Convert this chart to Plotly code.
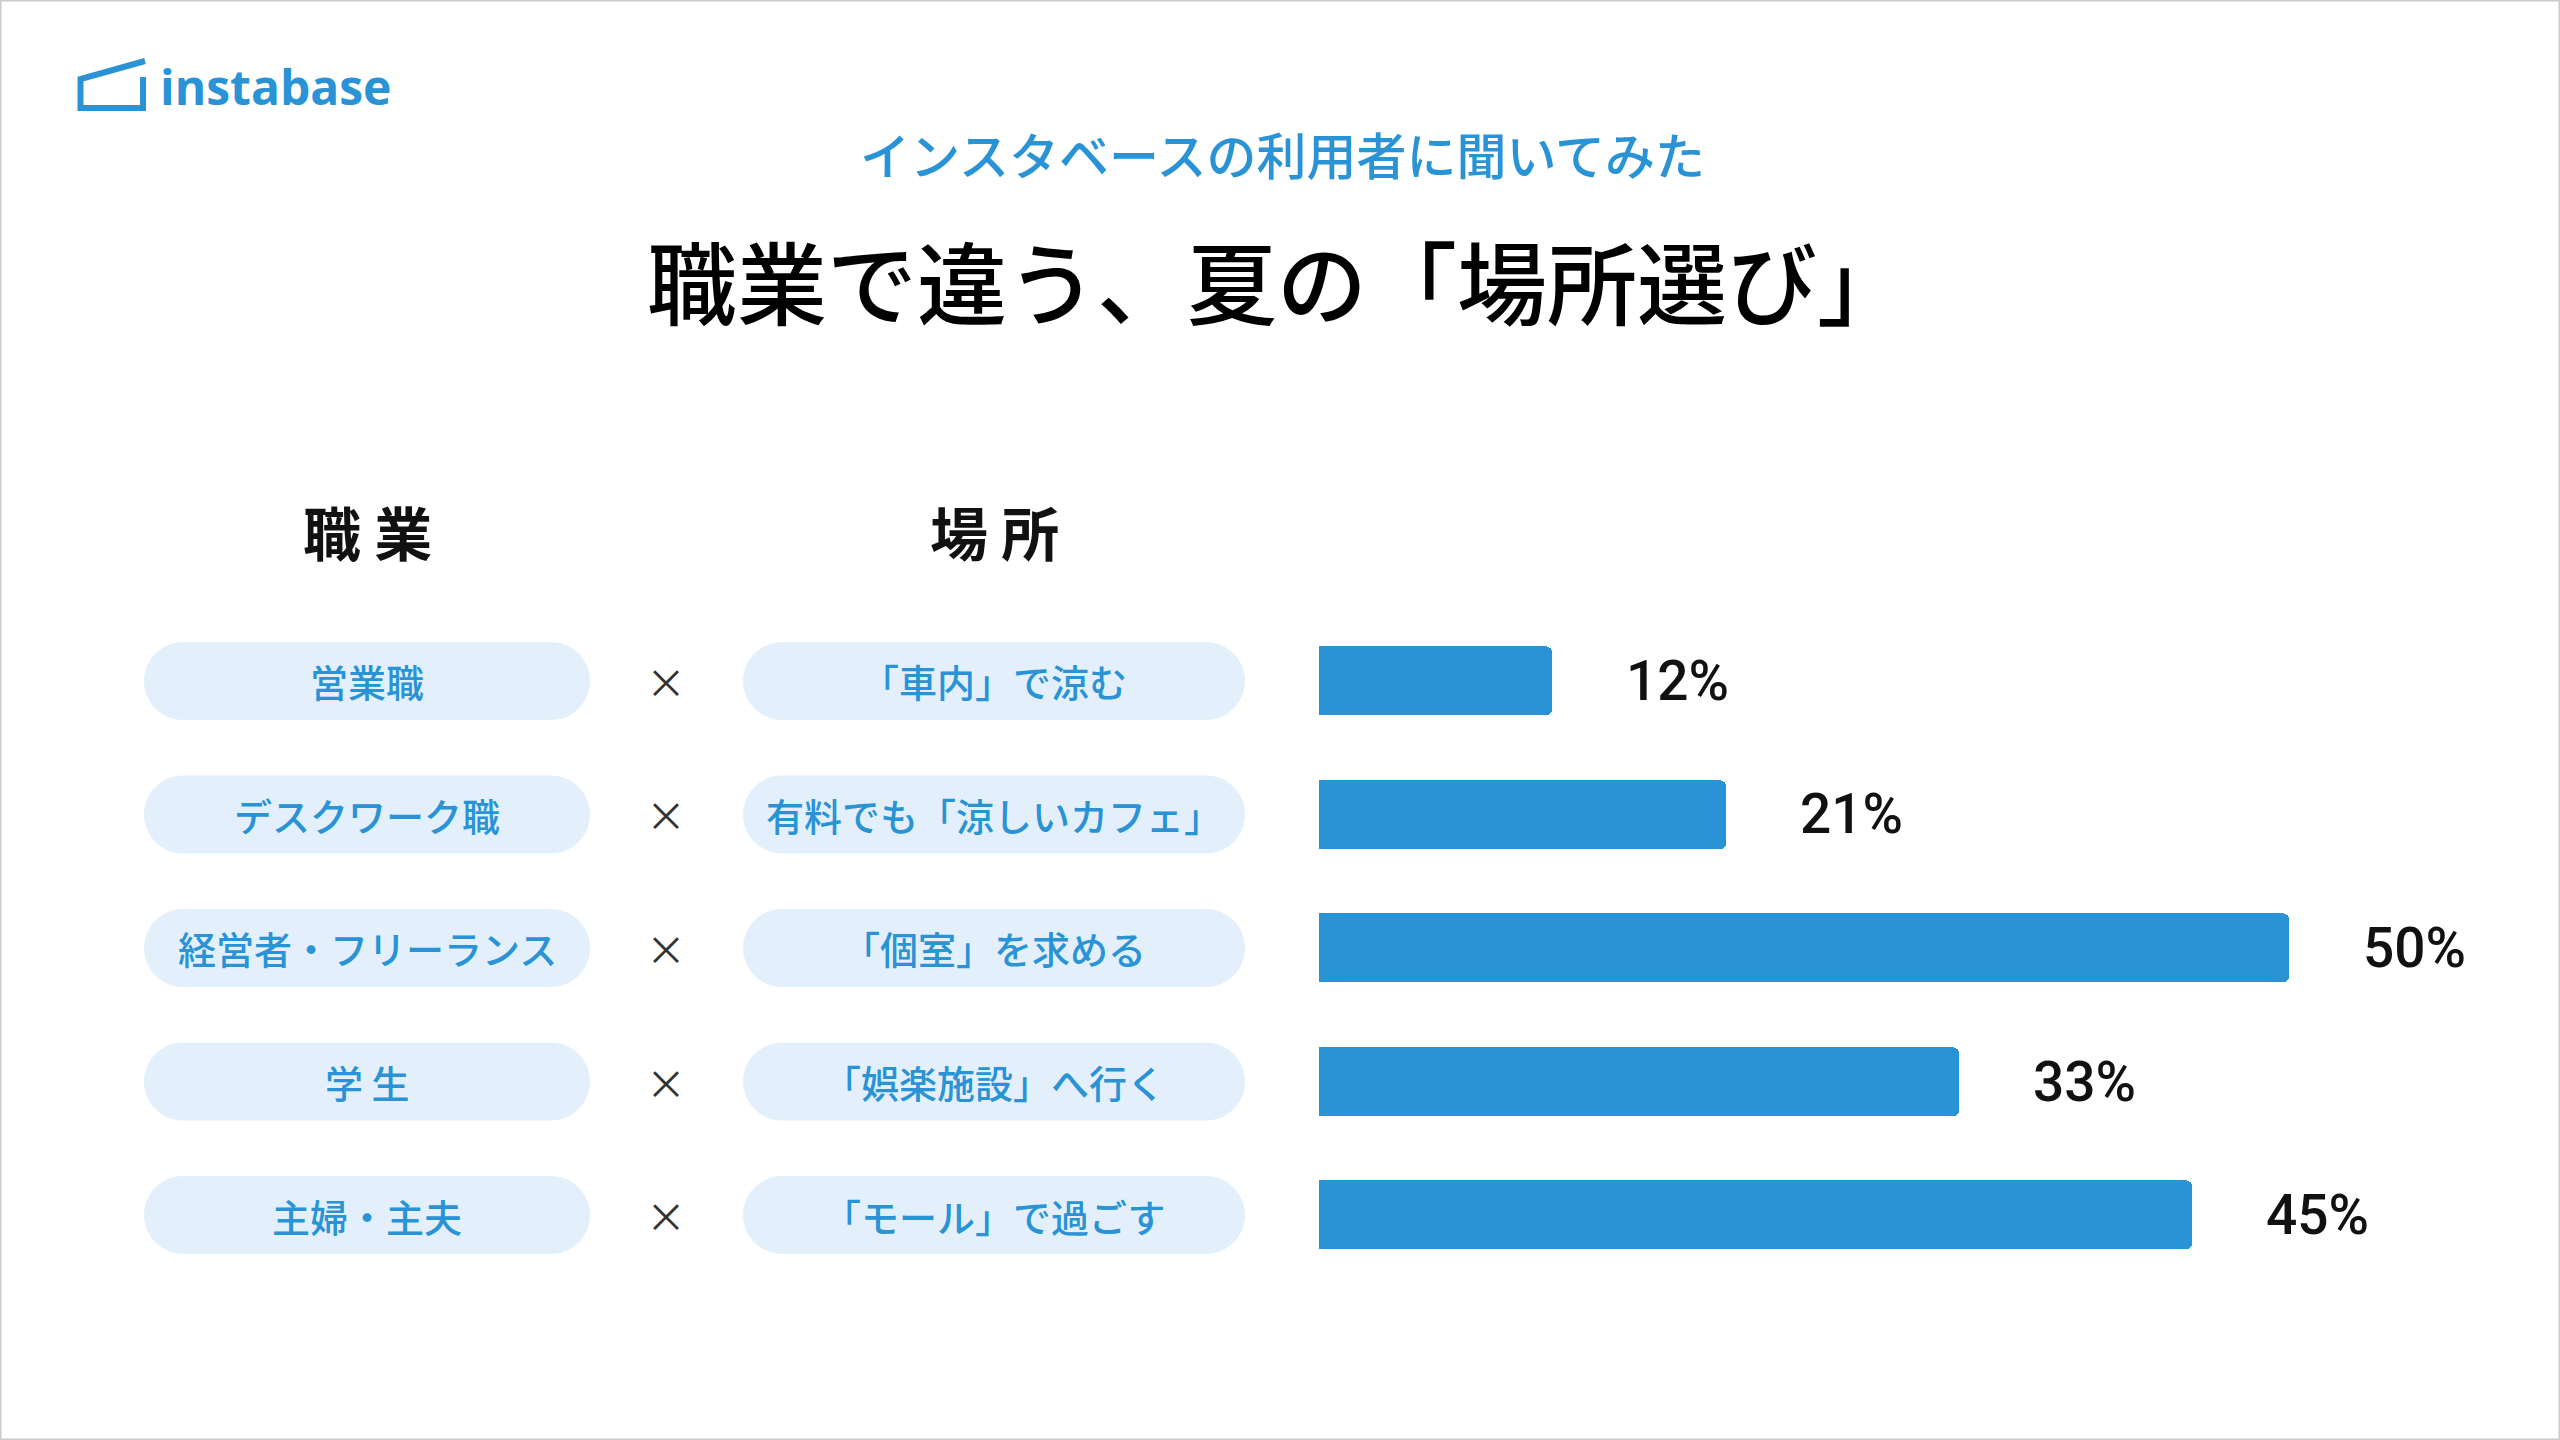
import plotly.graph_objects as go

# ---- data ----
occupations = ["営業職", "デスクワーク職", "経営者・フリーランス", "学 生", "主婦・主夫"]
places = ["「車内」で涼む", "有料でも「涼しいカフェ」", "「個室」を求める", "「娯楽施設」へ行く", "「モール」で過ごす"]
shares = [12, 21, 50, 33, 45]
share_labels = ["12%", "21%", "50%", "33%", "45%"]

W, H = 2560, 1440
BLUE = "#2A93D6"
PILL = "#E3F0FC"
JP = "Noto Sans CJK JP"

def px(x):
    return x / W

def py(y):
    return 1 - y / H

fig = go.Figure()
fig.add_trace(go.Bar(
    x=shares, y=occupations, orientation="h",
    marker=dict(color=BLUE, cornerradius=6, line=dict(width=0)),
    width=0.52, hoverinfo="skip", showlegend=False,
))

row_top, row_h = 614.25, 133.5
fig.update_layout(
    width=W, height=H,
    margin=dict(l=0, r=0, t=0, b=0),
    paper_bgcolor="white", plot_bgcolor="white",
    xaxis=dict(domain=[px(1319), px(2289)], range=[0, 50], visible=False, fixedrange=True),
    yaxis=dict(domain=[py(row_top + 5 * row_h), py(row_top)], range=[4.5, -0.5],
               type="category", visible=False, fixedrange=True),
    bargap=0,
)

def pill_path(x0, x1, h):
    r = h / 2
    k = 0.5523 * r
    return (f"M {x0+r},{r} L {x1-r},{r} "
            f"C {x1-r+k},{r} {x1},{k} {x1},0 "
            f"C {x1},{-k} {x1-r+k},{-r} {x1-r},{-r} "
            f"L {x0+r},{-r} "
            f"C {x0+r-k},{-r} {x0},{-k} {x0},0 "
            f"C {x0},{k} {x0+r-k},{r} {x0+r},{r} Z")

shapes = []
annotations = []
for occ, place, val, lab in zip(occupations, places, shares, share_labels):
    for (a, b) in [(144, 590), (743, 1245)]:
        shapes.append(dict(type="path", xref="paper", yref="y",
                           xsizemode="pixel", xanchor=0,
                           ysizemode="pixel", yanchor=occ,
                           path=pill_path(a, b, 78),
                           fillcolor=PILL, line=dict(width=0), layer="below"))
    annotations.append(dict(text=occ, xref="paper", yref="y", x=px(367), y=occ,
                            showarrow=False, xanchor="center", yanchor="middle",
                            font=dict(family=JP, size=38, color=BLUE, weight=500)))
    annotations.append(dict(text="×", xref="paper", yref="y", x=px(666), y=occ,
                            showarrow=False, xanchor="center", yanchor="middle",
                            font=dict(family=JP, size=40, color="#333333")))
    annotations.append(dict(text=place, xref="paper", yref="y", x=px(994), y=occ,
                            showarrow=False, xanchor="center", yanchor="middle",
                            font=dict(family=JP, size=38, color=BLUE, weight=500)))
    annotations.append(dict(text=lab, xref="x", yref="y", x=val, y=occ, xshift=72,
                            showarrow=False, xanchor="left", yanchor="middle",
                            font=dict(family="Roboto", size=55, color="#111111", weight=500)))

# headers, titles
annotations += [
    dict(text="職 業", xref="paper", yref="paper", x=px(367), y=py(531), showarrow=False,
         xanchor="center", yanchor="middle", font=dict(family=JP, size=58, color="#111111", weight=700)),
    dict(text="場 所", xref="paper", yref="paper", x=px(994), y=py(531), showarrow=False,
         xanchor="center", yanchor="middle", font=dict(family=JP, size=58, color="#111111", weight=700)),
    dict(text="インスタベースの利用者に聞いてみた", xref="paper", yref="paper", x=px(1282), y=py(153),
         showarrow=False, xanchor="center", yanchor="middle",
         font=dict(family=JP, size=50, color=BLUE, weight=500)),
    dict(text="職業で違う、夏の「場所選び」", xref="paper", yref="paper", x=px(1277), y=py(279),
         showarrow=False, xanchor="center", yanchor="middle",
         font=dict(family=JP, size=90, color="#000000", weight=500)),
    dict(text="instabase", xref="paper", yref="paper", x=px(158), y=py(86),
         showarrow=False, xanchor="left", yanchor="middle",
         font=dict(family="Open Sans", size=48, color=BLUE, weight=700)),
]

# logo icon (house outline)
pts = [(145, 61), (80.5, 79), (80.5, 108), (143, 108), (143, 77)]
logo_path = "M " + " L ".join(f"{px(x)},{py(y)}" for x, y in pts)
shapes.append(dict(type="path", xref="paper", yref="paper", path=logo_path,
                   line=dict(color=BLUE, width=6), fillcolor="rgba(0,0,0,0)"))
# frame
shapes.append(dict(type="rect", xref="paper", yref="paper", x0=0, x1=1, y0=0, y1=1,
                   line=dict(color="#cccccc", width=3)))

fig.update_layout(shapes=shapes, annotations=annotations)

fig.write_html("out.html", config={"displayModeBar": False},
               post_script="document.body.style.margin='0';document.body.style.overflow='hidden';")
